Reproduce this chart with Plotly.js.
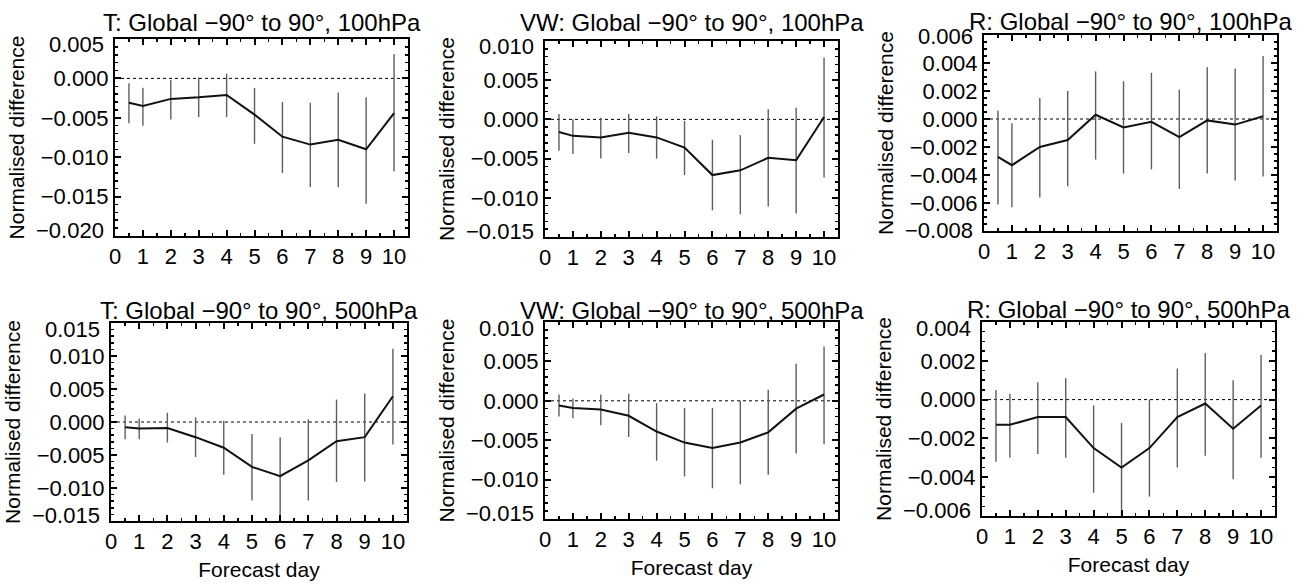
<!DOCTYPE html>
<html>
<head>
<meta charset="utf-8">
<script src="https://cdn.plot.ly/plotly-3.0.1.min.js"></script>
<style>
  html, body { margin: 0; padding: 0; background: #ffffff; }
  #chart { width: 1310px; height: 585px; }
</style>
</head>
<body>
<div id="chart"></div>
<script>
// Forecast days
var forecastDays = [0.5, 1, 2, 3, 4, 5, 6, 7, 8, 9, 10];
var xTickVals = [0, 1, 2, 3, 4, 5, 6, 7, 8, 9, 10];

// Panel titles
var panelTitles = [
  'T: Global \u221290\u00b0 to 90\u00b0, 100hPa',
  'VW: Global \u221290\u00b0 to 90\u00b0, 100hPa',
  'R: Global \u221290\u00b0 to 90\u00b0, 100hPa',
  'T: Global \u221290\u00b0 to 90\u00b0, 500hPa',
  'VW: Global \u221290\u00b0 to 90\u00b0, 500hPa',
  'R: Global \u221290\u00b0 to 90\u00b0, 500hPa'
];

// T 100hPa
var t100Mean  = [-0.0031, -0.0035, -0.0026, -0.0024, -0.0021, -0.0046, -0.0074, -0.0084, -0.0078, -0.0090, -0.0044];
var t100Upper = [-0.0006, -0.0012, -0.0002,  0.0001,  0.0006, -0.0012, -0.0030, -0.0031, -0.0018, -0.0024,  0.0031];
var t100Lower = [-0.0057, -0.0060, -0.0052, -0.0049, -0.0049, -0.0083, -0.0120, -0.0138, -0.0138, -0.0159, -0.0118];

// VW 100hPa
var vw100Mean  = [-0.0016, -0.0021, -0.0023, -0.0017, -0.0023, -0.0036, -0.0071, -0.0065, -0.0049, -0.0052,  0.0003];
var vw100Upper = [ 0.0007,  0.0000,  0.0002,  0.0007,  0.0004, -0.0002, -0.0026, -0.0020,  0.0013,  0.0015,  0.0079];
var vw100Lower = [-0.0040, -0.0044, -0.0050, -0.0043, -0.0050, -0.0071, -0.0116, -0.0121, -0.0111, -0.0120, -0.0074];

// R 100hPa
var r100Mean  = [-0.0027, -0.0033, -0.0020, -0.0015,  0.0003, -0.0006, -0.0002, -0.0013, -0.0001, -0.0004,  0.0002];
var r100Upper = [ 0.0006, -0.0003,  0.0015,  0.0020,  0.0034,  0.0027,  0.0033,  0.0021,  0.0037,  0.0036,  0.0045];
var r100Lower = [-0.0061, -0.0063, -0.0056, -0.0048, -0.0029, -0.0039, -0.0036, -0.0050, -0.0039, -0.0044, -0.0041];

// T 500hPa
var t500Mean  = [-0.0008, -0.0010, -0.0009, -0.0023, -0.0039, -0.0068, -0.0082, -0.0058, -0.0029, -0.0023,  0.0039];
var t500Upper = [ 0.0010,  0.0005,  0.0014,  0.0007,  0.0002, -0.0018, -0.0023,  0.0004,  0.0034,  0.0043,  0.0111];
var t500Lower = [-0.0026, -0.0026, -0.0031, -0.0053, -0.0080, -0.0119, -0.0148, -0.0119, -0.0091, -0.0090, -0.0034];

// VW 500hPa
var vw500Mean  = [-0.0006, -0.0009, -0.0011, -0.0019, -0.0039, -0.0053, -0.0060, -0.0053, -0.0040, -0.0010,  0.0008];
var vw500Upper = [ 0.0008,  0.0003,  0.0008,  0.0009, -0.0003, -0.0009, -0.0009,  0.0000,  0.0014,  0.0047,  0.0069];
var vw500Lower = [-0.0020, -0.0022, -0.0031, -0.0046, -0.0076, -0.0096, -0.0111, -0.0106, -0.0094, -0.0067, -0.0055];

// R 500hPa
var r500Mean  = [-0.0013, -0.0013, -0.0009, -0.0009, -0.0025, -0.0035, -0.0025, -0.0009, -0.0002, -0.0015, -0.0003];
var r500Upper = [ 0.0005,  0.0003,  0.0009,  0.0011, -0.0003, -0.0012,  0.0000,  0.0016,  0.0024,  0.0010,  0.0023];
var r500Lower = [-0.0032, -0.0030, -0.0028, -0.0030, -0.0048, -0.0060, -0.0050, -0.0035, -0.0029, -0.0041, -0.0030];

// Y tick values per panel (the first and last are the axis ends)
var yTicksT100  = [-0.020, -0.015, -0.010, -0.005, 0.000, 0.005];
var yTicksVW100 = [-0.015, -0.010, -0.005, 0.000, 0.005, 0.010];
var yTicksR100  = [-0.008, -0.006, -0.004, -0.002, 0.000, 0.002, 0.004, 0.006];
var yTicksT500  = [-0.015, -0.010, -0.005, 0.000, 0.005, 0.010, 0.015];
var yTicksVW500 = [-0.015, -0.010, -0.005, 0.000, 0.005, 0.010];
var yTicksR500  = [-0.006, -0.004, -0.002, 0.000, 0.002, 0.004];
var yMinorDticks = [0.001, 0.001, 0.0005, 0.001, 0.001, 0.0005];

var yTickSets    = [yTicksT100, yTicksVW100, yTicksR100, yTicksT500, yTicksVW500, yTicksR500];
var seriesMeans  = [t100Mean, vw100Mean, r100Mean, t500Mean, vw500Mean, r500Mean];
var seriesUppers = [t100Upper, vw100Upper, r100Upper, t500Upper, vw500Upper, r500Upper];
var seriesLowers = [t100Lower, vw100Lower, r100Lower, t500Lower, vw500Lower, r500Lower];

// Panel frames in pixels (left, right, top, bottom)
var W = 1310, H = 585;
var frames = [
  [115, 408, 39, 236],
  [545, 838, 41, 237],
  [984, 1277, 35, 231],
  [111, 407, 323, 521],
  [545, 838, 322, 519],
  [982, 1275, 322, 516]
];
var titleCenters = [22.5, 22.5, 21.5, 310, 310, 309.5];
// how far the end labels are nudged inwards (px)
var endLabelNudge = [6, 6, 1, 6, 6, 6];

var FONT = 'Liberation Sans, Arial, Helvetica, sans-serif';
function fmt(v) {
  var s = Math.abs(v).toFixed(3);
  return (v < -1e-12 ? '\u2212' : '') + s;
}

var data = [];
var layout = {
  width: W, height: H,
  margin: {l: 0, r: 0, t: 0, b: 0},
  paper_bgcolor: '#ffffff',
  plot_bgcolor: '#ffffff',
  showlegend: false,
  font: {family: FONT, color: '#000000', size: 21},
  annotations: [],
  shapes: []
};

for (var i = 0; i < 6; i++) {
  var n = i + 1;
  var xa = n === 1 ? 'x' : 'x' + n;
  var ya = n === 1 ? 'y' : 'y' + n;
  var mean = seriesMeans[i], up = seriesUppers[i], lo = seriesLowers[i];
  var plus = [], minus = [];
  for (var k = 0; k < mean.length; k++) {
    plus.push(up[k] - mean[k]);
    minus.push(mean[k] - lo[k]);
  }
  data.push({
    type: 'scatter', mode: 'lines',
    x: forecastDays, y: mean,
    xaxis: xa, yaxis: ya,
    line: {color: '#111111', width: 2},
    error_y: {type: 'data', symmetric: false, array: plus, arrayminus: minus,
              width: 0, thickness: 1.4, color: '#5e5e5e'},
    hoverinfo: 'skip'
  });
  var f = frames[i];
  var ticks = yTickSets[i];
  var yMin = ticks[0], yMax = ticks[ticks.length - 1];
  // interior labels via the axis, end labels nudged inwards like the original
  var tText = ticks.map(function (v, j) { return (j === 0 || j === ticks.length - 1) ? '' : fmt(v); });
  var xKey = n === 1 ? 'xaxis' : 'xaxis' + n;
  var yKey = n === 1 ? 'yaxis' : 'yaxis' + n;
  layout[xKey] = {
    domain: [f[0] / W, f[1] / W],
    anchor: ya,
    range: [0, 10.5],
    tickvals: xTickVals,
    ticktext: xTickVals.map(String),
    ticks: 'inside', ticklen: 6, tickwidth: 2, tickcolor: '#000000',
    minor: {ticks: 'inside', ticklen: 3, tickwidth: 1.5, tickcolor: '#000000', dtick: 0.5, tick0: 0},
    showline: true, linewidth: 2, linecolor: '#000000', mirror: 'allticks',
    showgrid: false, zeroline: false,
    tickfont: {family: FONT, size: 22, color: '#000000'},
    title: i >= 3 ? {text: 'Forecast day', font: {family: FONT, size: 21, color: '#000000'}, standoff: 9} : {text: ''}
  };
  layout[yKey] = {
    domain: [(H - f[3]) / H, (H - f[2]) / H],
    anchor: xa,
    range: [yMin, yMax],
    tickvals: ticks,
    ticktext: tText,
    ticks: 'inside', ticklen: 6, tickwidth: 2, tickcolor: '#000000',
    minor: {ticks: 'inside', ticklen: 3, tickwidth: 1.5, tickcolor: '#000000', dtick: yMinorDticks[i], tick0: 0},
    showline: true, linewidth: 2, linecolor: '#000000', mirror: 'allticks',
    showgrid: false, zeroline: false,
    tickfont: {family: FONT, size: 22, color: '#000000'},
    title: {text: 'Normalised difference', font: {family: FONT, size: 21, color: '#000000'}, standoff: 10}
  };
  layout.annotations.push({
    text: fmt(yMax), xref: xa + ' domain', yref: ya, x: 0, y: yMax,
    xanchor: 'right', yanchor: 'middle', xshift: -10, yshift: -endLabelNudge[i],
    showarrow: false, borderpad: 0,
    font: {family: FONT, size: 22, color: '#000000'}
  });
  layout.annotations.push({
    text: fmt(yMin), xref: xa + ' domain', yref: ya, x: 0, y: yMin,
    xanchor: 'right', yanchor: 'middle', xshift: -10, yshift: endLabelNudge[i],
    showarrow: false, borderpad: 0,
    font: {family: FONT, size: 22, color: '#000000'}
  });
  layout.shapes.push({
    type: 'line', xref: xa + ' domain', yref: ya,
    x0: 0, x1: 1, y0: 0, y1: 0,
    line: {color: '#000000', width: 1, dash: 'dot'},
    layer: 'below'
  });
  layout.annotations.push({
    text: panelTitles[i],
    xref: 'paper', yref: 'paper',
    x: (f[0] + f[1]) / 2 / W, y: (H - titleCenters[i]) / H,
    xanchor: 'center', yanchor: 'middle',
    showarrow: false,
    font: {family: FONT, size: 24, color: '#000000'}
  });
}

Plotly.newPlot('chart', data, layout, {displayModeBar: false, staticPlot: true});
</script>
</body>
</html>
